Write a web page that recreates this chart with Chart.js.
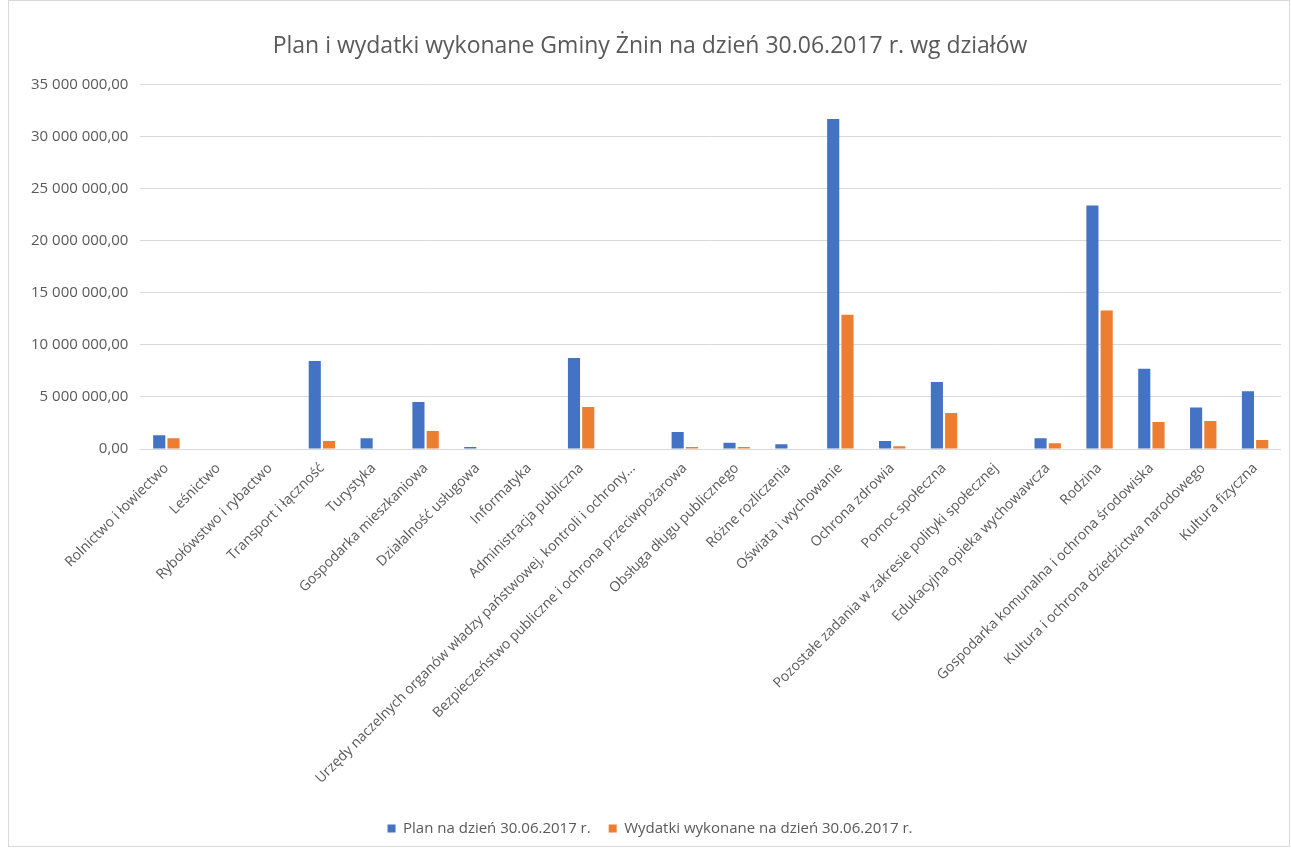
<!DOCTYPE html>
<html>
<head>
<meta charset="utf-8">
<script src="https://cdn.jsdelivr.net/npm/chart.js@4"></script>
<style>
  html, body { margin: 0; padding: 0; background: #fff; }
  #box { position: absolute; left: 8px; top: 0; width: 1282px; height: 847px; border: 1px solid #d9d9d9; box-sizing: border-box; }
</style>
</head>
<body>
<div id="box"><canvas id="chart-dzialy"></canvas></div>
<script>
// Działy budżetu
let labelsDzialy = [
  'Rolnictwo i łowiectwo', 'Leśnictwo', 'Rybołówstwo i rybactwo', 'Transport i łączność',
  'Turystyka', 'Gospodarka mieszkaniowa', 'Działalność usługowa', 'Informatyka',
  'Administracja publiczna', 'Urzędy naczelnych organów władzy państwowej, kontroli i ochrony...',
  'Bezpieczeństwo publiczne i ochrona przeciwpożarowa', 'Obsługa długu publicznego',
  'Różne rozliczenia', 'Oświata i wychowanie', 'Ochrona zdrowia', 'Pomoc społeczna',
  'Pozostałe zadania w zakresie polityki społecznej', 'Edukacyjna opieka wychowawcza',
  'Rodzina', 'Gospodarka komunalna i ochrona środowiska',
  'Kultura i ochrona dziedzictwa narodowego', 'Kultura fizyczna'
];
let dataPlan = [1320000, 0, 0, 8460000, 1030000, 4520000, 190000, 0,
  8750000, 0, 1630000, 610000, 450000, 31700000, 770000, 6440000,
  0, 1030000, 23400000, 7700000, 4000000, 5550000];
let dataWydatki = [1030000, 0, 0, 770000, 0, 1730000, 0, 0,
  4040000, 0, 190000, 190000, 0, 12900000, 260000, 3460000,
  0, 550000, 13300000, 2600000, 2700000, 870000];
let seriesNames = ['Plan na dzień 30.06.2017 r.', 'Wydatki wykonane na dzień 30.06.2017 r.'];
let colorsSeries = ['#4472C4', '#ED7D31'];

function formatPl(v) {
  let s = Math.round(v).toString().replace(/\B(?=(\d{3})+(?!\d))/g, ' ');
  return s + ',00';
}

var ctxDzialy = document.getElementById('chart-dzialy').getContext('2d');

let chartDzialy = new Chart(ctxDzialy, {
  type: 'bar',
  data: {
    labels: labelsDzialy,
    datasets: [{
      label: seriesNames[0],
      data: dataPlan,
      backgroundColor: colorsSeries[0]
    }, {
      label: seriesNames[1],
      data: dataWydatki,
      backgroundColor: colorsSeries[1]
    }]
  },
  options: {
    responsive: true,
    maintainAspectRatio: false,
    animation: false,
    layout: { padding: { left: 10, right: 8, top: 14, bottom: 0 } },
    datasets: { bar: { categoryPercentage: 0.55, barPercentage: 0.85 } },
    plugins: {
      title: {
        display: true,
        text: 'Plan i wydatki wykonane Gminy Żnin na dzień 30.06.2017 r. wg działów',
        color: '#595959',
        font: { family: 'Open Sans', size: 23, weight: 'normal' },
        padding: { top: 18, bottom: 24 }
      },
      legend: {
        position: 'bottom',
        // empty title only used as spacer above the items
        title: { display: true, text: ' ', font: { size: 1 }, padding: { top: 12, bottom: 0 } },
        labels: {
          color: '#595959',
          font: { family: 'Open Sans', size: 15 },
          boxWidth: 8,
          boxHeight: 8,
          padding: 18
        }
      },
      tooltip: { enabled: false }
    },
    scales: {
      x: {
        grid: { display: false },
        border: { display: false },
        ticks: {
          color: '#595959',
          font: { family: 'Open Sans', size: 14 },
          minRotation: 45,
          maxRotation: 45,
          autoSkip: false
        }
      },
      y: {
        min: 0,
        max: 35000000,
        grid: { color: '#d9d9d9', drawTicks: false },
        border: { display: false },
        ticks: {
          stepSize: 5000000,
          padding: 12,
          color: '#595959',
          font: { family: 'Open Sans', size: 15 },
          callback: function (v) { return formatPl(v); }
        }
      }
    }
  }
});
</script>
</body>
</html>
